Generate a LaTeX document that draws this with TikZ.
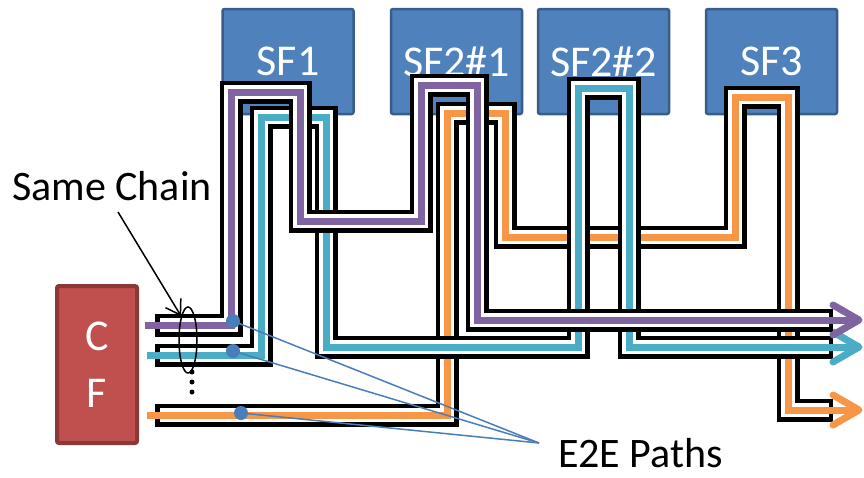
\documentclass[tikz,border=0pt]{standalone}
\usepackage{fontspec}
\setmainfont{Carlito}
\usetikzlibrary{arrows.meta,shapes.geometric}
\definecolor{sfblue}{HTML}{4F81BD}
\definecolor{sfborder}{HTML}{385D8A}
\definecolor{cfred}{HTML}{C0504D}
\definecolor{cfborder}{HTML}{8C3836}
\definecolor{pathpurple}{HTML}{8064A2}
\definecolor{pathcyan}{HTML}{4BACC6}
\definecolor{pathorange}{HTML}{F79646}
\definecolor{e2eblue}{HTML}{4A7EBB}
\begin{document}
\begin{tikzpicture}[x=1pt,y=-1pt,
  sfbox/.style={draw=sfborder, fill=sfblue, line width=2.5pt, rounded corners=2pt,
    minimum width=131pt, minimum height=105pt, inner sep=0pt, text=white,
    font=\fontsize{44}{50}\selectfont},
  cfbox/.style={draw=cfborder, fill=cfred, line width=4pt, rounded corners=2pt,
    minimum width=80pt, minimum height=157pt, inner sep=0pt, text=white, align=center,
    font=\fontsize{44}{57}\selectfont},
  tubewall/.style={line width=#1, line cap=rect, line join=miter},
  flow/.style={line width=7pt, line cap=butt, line join=miter},
  chevron/.style={line width=7pt, line cap=round, line join=round},
  label/.style={font=\fontsize{42}{48}\selectfont, inner sep=0pt, text=black},
  e2edot/.style={circle, fill=e2eblue, minimum size=14pt, inner sep=0pt},
  e2eline/.style={draw=e2eblue, line width=1.5pt},
  ellipsisdot/.style={circle, fill=black, minimum size=5pt, inner sep=0pt}]
\useasboundingbox (0,0) rectangle (864,477);

% service function boxes
\node[sfbox] (sf1)  at (288,61.5)   {SF1};
\node[sfbox] (sf21) at (456.5,61.5) {SF2\#1};
\node[sfbox] (sf22) at (603.5,61.5) {SF2\#2};
\node[sfbox] (sf3)  at (771.5,61.5) {SF3};

% classifier
\node[cfbox] (cf) at (97,364.5) {C\\F};

% ---------- orange path ----------
\coordinate (os) at (166.5,415); \coordinate (oc) at (147,415);
\coordinate (o1) at (447,415); \coordinate (o2) at (447,113);
\coordinate (o3) at (505,113); \coordinate (o4) at (505,237);
\coordinate (o5) at (735,237); \coordinate (o6) at (735,97);
\coordinate (o7) at (788,97);  \coordinate (o8) at (788,410);
\coordinate (oe) at (821.5,410); \coordinate (ot) at (859,410);
\foreach \w/\c in {23pt/black,14pt/white}
  \draw[tubewall=\w, draw=\c] (os) -- (o1) -- (o2) -- (o3) -- (o4) -- (o5) -- (o6) -- (o7) -- (o8) -- (oe);
\draw[flow, pathorange] (oc) -- (o1) -- (o2) -- (o3) -- (o4) -- (o5) -- (o6) -- (o7) -- (o8) -- (ot);
\draw[chevron, pathorange] (833,395) -- (ot) -- (833,425);

% ---------- cyan path ----------
\coordinate (cs) at (166.5,355); \coordinate (cc) at (147,355);
\coordinate (c1) at (261,355); \coordinate (c2) at (261,117);
\coordinate (c3) at (326,117); \coordinate (c4) at (326,347);
\coordinate (c5) at (578,347); \coordinate (c6) at (578,88);
\coordinate (c7) at (629,88);  \coordinate (c8) at (629,347);
\coordinate (ce) at (821.5,347); \coordinate (ct) at (859,347);
\foreach \w/\c in {23pt/black,14pt/white}
  \draw[tubewall=\w, draw=\c] (cs) -- (c1) -- (c2) -- (c3) -- (c4) -- (c5) -- (c6) -- (c7) -- (c8) -- (ce);
\draw[flow, pathcyan] (cc) -- (c1) -- (c2) -- (c3) -- (c4) -- (c5) -- (c6) -- (c7) -- (c8) -- (ct);
\draw[chevron, pathcyan] (833,332) -- (ct) -- (833,362);

% ---------- purple path ----------
\coordinate (ps) at (166.5,325); \coordinate (pc) at (145,325);
\coordinate (p1) at (231,325); \coordinate (p2) at (231,92);
\coordinate (p3) at (300,92);  \coordinate (p4) at (300,221);
\coordinate (p5) at (421,221); \coordinate (p6) at (421,85);
\coordinate (p7) at (477,85);  \coordinate (p8) at (477,320);
\coordinate (pe) at (821.5,320); \coordinate (pt) at (859,320);
\foreach \w/\c in {23pt/black,14pt/white}
  \draw[tubewall=\w, draw=\c] (ps) -- (p1) -- (p2) -- (p3) -- (p4) -- (p5) -- (p6) -- (p7) -- (p8) -- (pe);
\draw[flow, pathpurple] (pc) -- (p1) -- (p2) -- (p3) -- (p4) -- (p5) -- (p6) -- (p7) -- (p8) -- (pt);
\draw[chevron, pathpurple] (833,305) -- (pt) -- (833,335);

% ---------- same chain annotation ----------
\node[label, anchor=base west] (samechain) at (12,200) {Same Chain};
\node[draw=black, line width=1.5pt, ellipse, minimum width=18pt, minimum height=66pt, inner sep=0pt] (ring) at (188,340) {};
\coordinate (scstart) at (118,212);
\draw[line width=1.5pt, -{Straight Barb[length=14pt,width=18pt]}] (scstart) -- (ring.north west);
\node[ellipsisdot] (dotA) at (192,372) {};
\node[ellipsisdot] (dotB) at (192,382) {};
\node[ellipsisdot] (dotC) at (192,392) {};

% ---------- E2E paths annotation ----------
\node[label, anchor=base west] (e2e) at (558,467) {E2E Paths};
\coordinate (e2etip) at (539,443);
\node[e2edot] (d1) at (233,321) {};
\node[e2edot] (d2) at (233,351) {};
\node[e2edot] (d3) at (241,413) {};
\draw[e2eline] (d1.center) -- (e2etip);
\draw[e2eline] (d2.center) -- (e2etip);
\draw[e2eline] (d3.center) -- (e2etip);
\end{tikzpicture}
\end{document}
